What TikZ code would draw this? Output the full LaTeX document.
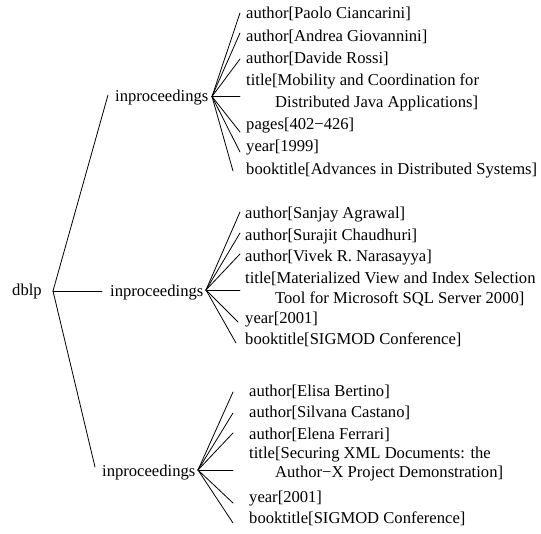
\documentclass[tikz,border=0pt]{standalone}
\usepackage{fontspec}
\setmainfont{Liberation Serif}
\tikzset{
  lbl/.style={inner sep=0pt, anchor=base west, font=\fontsize{16.6}{20}\selectfont},
  conn/.style={line width=0.8pt, line cap=round},
}
\begin{document}
\begin{tikzpicture}[x=1pt,y=-1pt]
\useasboundingbox (0,0) rectangle (541,534);
% root
\node[lbl] (dblp) at (12,296) {dblp};
\coordinate (dblpo) at (53,291);
% level 1
\node[lbl] (ip1) at (115,102) {inproceedings};
\node[lbl] (ip2) at (110,297) {inproceedings};
\node[lbl] (ip3) at (102,476) {inproceedings};
\coordinate (ip1in) at (108,95);
\coordinate (ip2in) at (102,291);
\coordinate (ip3in) at (95,467);
\coordinate (ip1o) at (212,96.5);
\coordinate (ip2o) at (206,290);
\coordinate (ip3o) at (198,470);
\draw[conn] (dblpo) -- (ip1in);
\draw[conn] (dblpo) -- (ip2in);
\draw[conn] (dblpo) -- (ip3in);
% group 1
\node[lbl] (a11) at (246,19) {author[Paolo Ciancarini]};
\node[lbl] (a12) at (246,41.5) {author[Andrea Giovannini]};
\node[lbl] (a13) at (246,63.5) {author[Davide Rossi]};
\node[lbl] (t1) at (246,85.5) {title[Mobility and Coordination for};
\node[lbl] (t1b) at (275,108) {Distributed Java Applications]};
\node[lbl] (p1) at (246,130) {pages[402−426]};
\node[lbl] (y1) at (246,152) {year[1999]};
\node[lbl] (b1) at (246,174.5) {booktitle[Advances in Distributed Systems]};
\coordinate (e11) at (240,13);
\coordinate (e12) at (240,33);
\coordinate (e13) at (240,59);
\coordinate (et1) at (240,96.5);
\coordinate (ep1) at (240,132);
\coordinate (ey1) at (240,152);
\coordinate (eb1) at (233,171);
\foreach \e in {e11,e12,e13,et1,ep1,ey1,eb1} \draw[conn] (ip1o) -- (\e);
% group 2
\node[lbl] (a21) at (245,219) {author[Sanjay Agrawal]};
\node[lbl] (a22) at (245,241) {author[Surajit Chaudhuri]};
\node[lbl] (a23) at (245,262) {author[Vivek R. Narasayya]};
\node[lbl] (t2) at (245,284) {title[Materialized View and Index Selection};
\node[lbl] (t2b) at (275,304) {Tool for Microsoft SQL Server 2000]};
\node[lbl] (y2) at (245,324) {year[2001]};
\node[lbl] (b2) at (245,345) {booktitle[SIGMOD Conference]};
\coordinate (e21) at (240,212);
\coordinate (e22) at (240,233);
\coordinate (e23) at (240,254);
\coordinate (et2) at (240,290);
\coordinate (ey2) at (238,322);
\coordinate (eb2) at (236,343);
\foreach \e in {e21,e22,e23,et2,ey2,eb2} \draw[conn] (ip2o) -- (\e);
% group 3
\node[lbl] (a31) at (249,397) {author[Elisa Bertino]};
\node[lbl] (a32) at (249,418) {author[Silvana Castano]};
\node[lbl] (a33) at (249,439) {author[Elena Ferrari]};
\node[lbl] (t3) at (249,459) {title[Securing XML Documents: the};
\node[lbl] (t3b) at (275,477) {Author−X Project Demonstration]};
\node[lbl] (y3) at (249,502) {year[2001]};
\node[lbl] (b3) at (249,523) {booktitle[SIGMOD Conference]};
\coordinate (e31) at (233,392);
\coordinate (e32) at (233,413);
\coordinate (e33) at (233,433);
\coordinate (et3) at (233,470);
\coordinate (ey3) at (233,503);
\coordinate (eb3) at (233,523);
\foreach \e in {e31,e32,e33,et3,ey3,eb3} \draw[conn] (ip3o) -- (\e);
\end{tikzpicture}
\end{document}
